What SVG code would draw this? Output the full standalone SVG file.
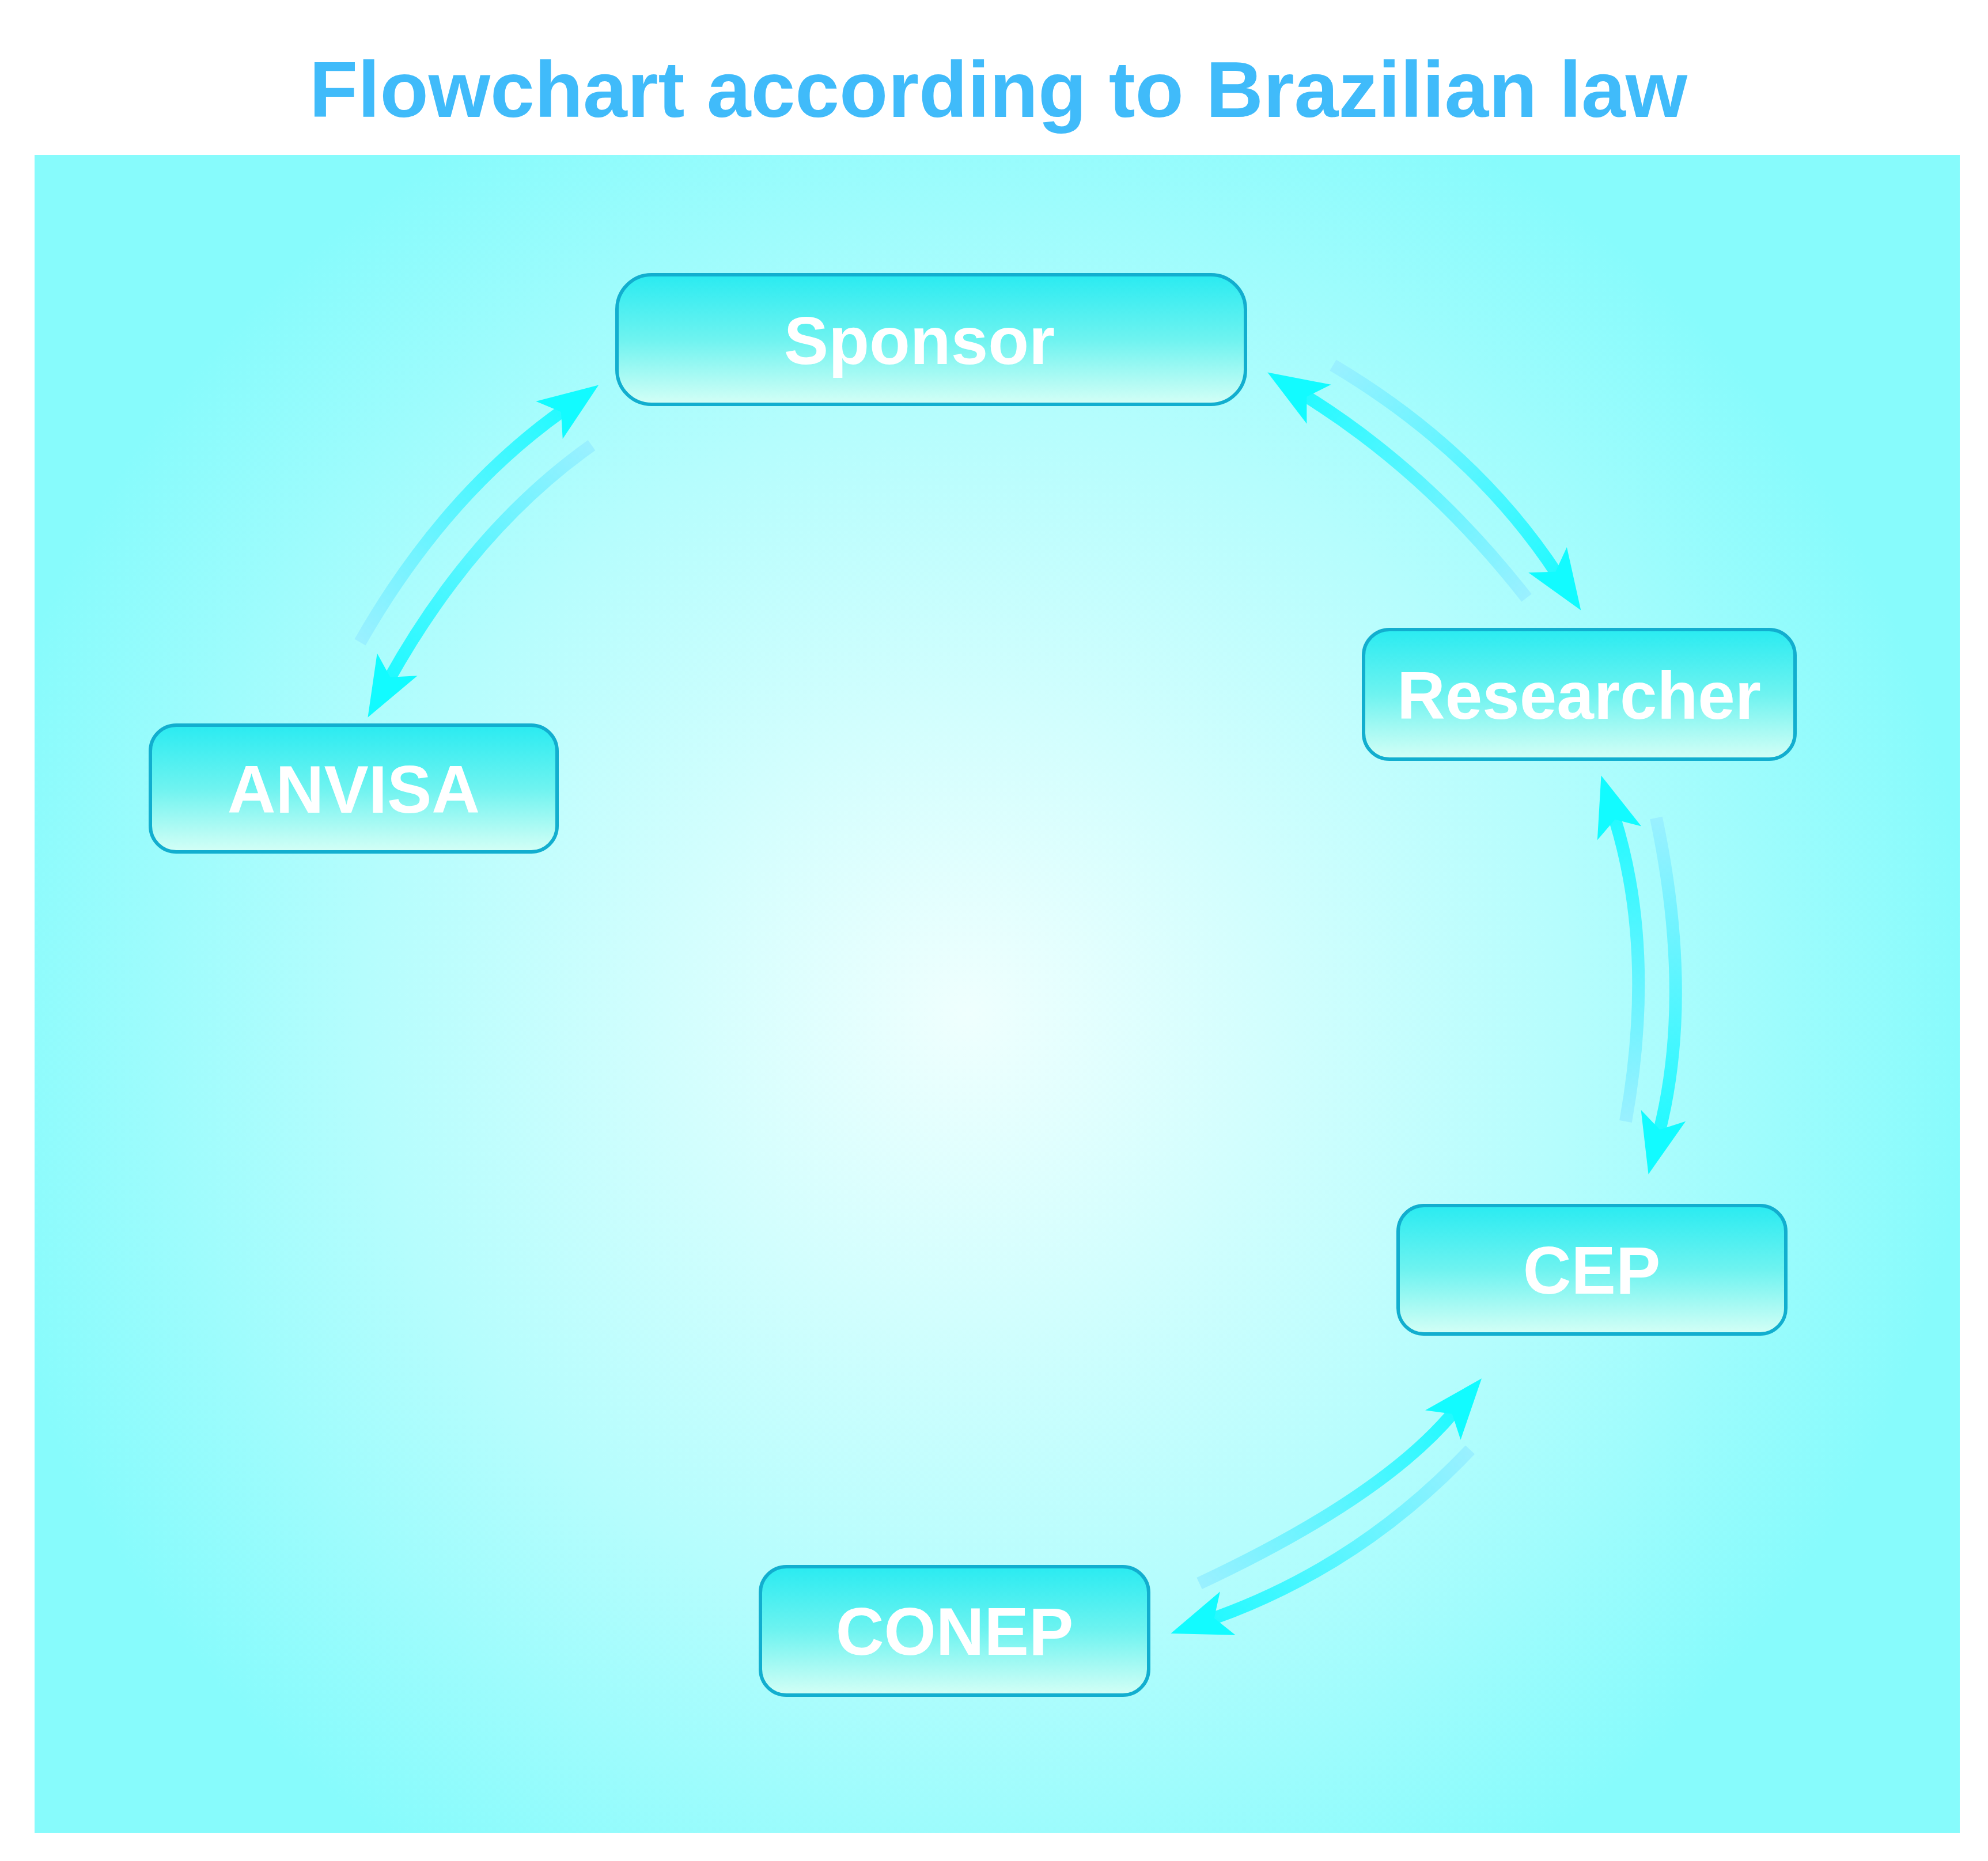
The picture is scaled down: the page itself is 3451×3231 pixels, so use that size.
<svg xmlns="http://www.w3.org/2000/svg" width="3451" height="3231" viewBox="0 0 3451 3231">
<defs>
<radialGradient id="bg" cx="1680" cy="1760" r="1750" gradientUnits="userSpaceOnUse">
<stop offset="0" stop-color="#effffe"/><stop offset="0.6" stop-color="#b5fdfd"/><stop offset="1" stop-color="#87fbfc"/>
</radialGradient>
<linearGradient id="nf" x1="0" y1="0" x2="0" y2="1">
<stop offset="0" stop-color="#2aebf1"/><stop offset="0.5" stop-color="#6ef3f0"/><stop offset="1" stop-color="#d4fff6"/>
</linearGradient>
<linearGradient id="g1" gradientUnits="userSpaceOnUse" x1="625" y1="1115" x2="1051" y2="673"><stop offset="0" stop-color="#9af0ff"/><stop offset="1" stop-color="#12fbff"/></linearGradient>
<linearGradient id="g2" gradientUnits="userSpaceOnUse" x1="1027" y1="773" x2="647" y2="1236"><stop offset="0" stop-color="#9af0ff"/><stop offset="1" stop-color="#12fbff"/></linearGradient>
<linearGradient id="g3" gradientUnits="userSpaceOnUse" x1="2650" y1="1038" x2="2193" y2="645"><stop offset="0" stop-color="#9af0ff"/><stop offset="1" stop-color="#12fbff"/></linearGradient>
<linearGradient id="g4" gradientUnits="userSpaceOnUse" x1="2314" y1="634" x2="2742" y2="1066"><stop offset="0" stop-color="#9af0ff"/><stop offset="1" stop-color="#12fbff"/></linearGradient>
<linearGradient id="g5" gradientUnits="userSpaceOnUse" x1="2822" y1="1947" x2="2787" y2="1342"><stop offset="0" stop-color="#9af0ff"/><stop offset="1" stop-color="#12fbff"/></linearGradient>
<linearGradient id="g6" gradientUnits="userSpaceOnUse" x1="2875" y1="1420" x2="2868" y2="2042"><stop offset="0" stop-color="#9af0ff"/><stop offset="1" stop-color="#12fbff"/></linearGradient>
<linearGradient id="g7" gradientUnits="userSpaceOnUse" x1="2082" y1="2749" x2="2566" y2="2389"><stop offset="0" stop-color="#9af0ff"/><stop offset="1" stop-color="#12fbff"/></linearGradient>
<linearGradient id="g8" gradientUnits="userSpaceOnUse" x1="2552" y1="2517" x2="2031" y2="2842"><stop offset="0" stop-color="#9af0ff"/><stop offset="1" stop-color="#12fbff"/></linearGradient>
<marker id="ah" markerUnits="userSpaceOnUse" markerWidth="130" markerHeight="100" viewBox="-110 -50 130 100" refX="-75" refY="0" orient="auto">
<path d="M0,0 L-105,-40 L-80,0 L-105,40 Z" fill="#12fbff"/>
</marker>
<style>
.node rect{fill:url(#nf);stroke:#12aecf;stroke-width:6}
.node text{font-family:"Liberation Sans",Arial,sans-serif;font-weight:bold;font-size:116px;fill:#ffffff;text-anchor:middle}
.c path{fill:none;stroke-width:22;marker-end:url(#ah)}
</style>
</defs>
<rect width="3451" height="3231" fill="#ffffff"/>
<rect x="60" y="269" width="3342" height="2913" fill="url(#bg)"/>
<text x="1733" y="203" font-family="'Liberation Sans',Arial,sans-serif" font-weight="bold" font-size="138" fill="#40bbfa" text-anchor="middle">Flowchart according to Brazilian law</text>
<g class="c" id="connectors">
<path d="M625,1115 Q770,860 978,712" stroke="url(#g1)"/>
<path d="M1027,773 Q820,920 675,1180" stroke="url(#g2)"/>
<path d="M2650,1038 Q2480,820 2264,686" stroke="url(#g3)"/>
<path d="M2314,634 Q2560,780 2703,997" stroke="url(#g4)"/>
<path d="M2822,1947 Q2875,1650 2802,1418" stroke="url(#g5)"/>
<path d="M2875,1420 Q2940,1730 2880,1966" stroke="url(#g6)"/>
<path d="M2082,2749 Q2400,2600 2524,2451" stroke="url(#g7)"/>
<path d="M2552,2517 Q2360,2720 2103,2811" stroke="url(#g8)"/>
</g>
<g class="node" id="sponsor"><rect x="1071" y="477" width="1091" height="225" rx="60"/><text x="1596" y="632">Sponsor</text></g>
<g class="node" id="researcher"><rect x="2367" y="1093" width="749" height="225" rx="45"/><text x="2741" y="1248">Researcher</text></g>
<g class="node" id="anvisa"><rect x="261" y="1259" width="706" height="220" rx="45"/><text x="614" y="1411">ANVISA</text></g>
<g class="node" id="cep"><rect x="2427" y="2093" width="673" height="223" rx="45"/><text x="2763" y="2246">CEP</text></g>
<g class="node" id="conep"><rect x="1320" y="2720" width="674" height="223" rx="45"/><text x="1657" y="2873">CONEP</text></g>
</svg>
